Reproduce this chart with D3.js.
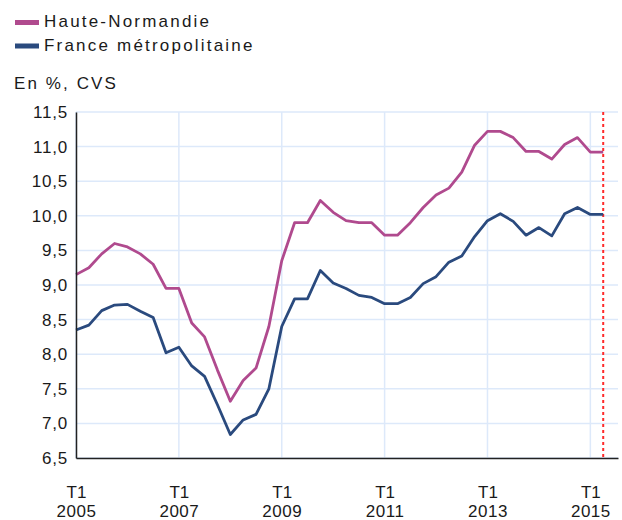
<!DOCTYPE html>
<html>
<head>
<meta charset="utf-8">
<script src="https://cdn.jsdelivr.net/npm/d3@7"></script>
<style>
  html, body { margin: 0; padding: 0; background: #fff; }
  svg { display: block; }
  text { font-family: "Liberation Sans", Arial, sans-serif; fill: #1a1a1a; }
</style>
</head>
<body>
<svg id="chart" width="622" height="520"></svg>
<script>
// ---- Data ----
const quarters = [
  "T1 2005","T2 2005","T3 2005","T4 2005",
  "T1 2006","T2 2006","T3 2006","T4 2006",
  "T1 2007","T2 2007","T3 2007","T4 2007",
  "T1 2008","T2 2008","T3 2008","T4 2008",
  "T1 2009","T2 2009","T3 2009","T4 2009",
  "T1 2010","T2 2010","T3 2010","T4 2010",
  "T1 2011","T2 2011","T3 2011","T4 2011",
  "T1 2012","T2 2012","T3 2012","T4 2012",
  "T1 2013","T2 2013","T3 2013","T4 2013",
  "T1 2014","T2 2014","T3 2014","T4 2014",
  "T1 2015","T2 2015"
];
const hauteNormandie = [
  9.15, 9.25, 9.45, 9.6,
  9.55, 9.45, 9.3, 8.95,
  8.95, 8.45, 8.25, 7.77,
  7.32, 7.62, 7.8, 8.4,
  9.35, 9.9, 9.9, 10.22,
  10.05, 9.93, 9.9, 9.9,
  9.72, 9.72, 9.9, 10.12,
  10.3, 10.4, 10.63, 11.02,
  11.22, 11.22, 11.13, 10.93,
  10.93, 10.82, 11.03, 11.13,
  10.92, 10.92
];
const franceMetro = [
  8.35, 8.42, 8.63, 8.71,
  8.72, 8.62, 8.53, 8.02,
  8.1, 7.83, 7.68, 7.27,
  6.84, 7.05, 7.13, 7.5,
  8.4, 8.8, 8.8, 9.21,
  9.03, 8.95, 8.85, 8.82,
  8.73, 8.73, 8.82, 9.02,
  9.12, 9.33, 9.42, 9.7,
  9.93, 10.03, 9.92, 9.72,
  9.83, 9.71, 10.03, 10.12,
  10.02, 10.02
];
const seriesNames = ["Haute-Normandie", "France métropolitaine"];
const seriesColors = ["#b04a8e", "#2a4a7e"];
const yTicks = [6.5, 7.0, 7.5, 8.0, 8.5, 9.0, 9.5, 10.0, 10.5, 11.0, 11.5];
const xTickIdx = [0, 8, 16, 24, 32, 40];
const unitLabel = "En %, CVS";
const markerIndex = 41; // dernier trimestre (ligne pointillée rouge)

// ---- Layout ----
const svg = d3.select("#chart");
const pLeft = 76, pRight = 618, pTop = 112, pBottom = 458;

const x = d3.scaleLinear().domain([0, 42.15]).range([pLeft, pRight]);
const y = d3.scaleLinear().domain([6.5, 11.5]).range([pBottom, pTop]);

// Grid
const grid = svg.append("g");
grid.selectAll(".hg").data(yTicks).join("line")
  .attr("x1", pLeft).attr("x2", pRight)
  .attr("y1", d => y(d)).attr("y2", d => y(d))
  .attr("stroke", "#dde9fa").attr("stroke-width", 1.5);
grid.selectAll(".vg").data(xTickIdx).join("line")
  .attr("x1", d => x(d)).attr("x2", d => x(d))
  .attr("y1", pTop).attr("y2", pBottom)
  .attr("stroke", "#dde9fa").attr("stroke-width", 1.5);

// Red dotted marker
svg.append("line")
  .attr("x1", x(markerIndex)).attr("x2", x(markerIndex))
  .attr("y1", pTop).attr("y2", pBottom)
  .attr("stroke", "#ff2a2a").attr("stroke-width", 2)
  .attr("stroke-dasharray", "3,3");

// Lines
const line = d3.line().x((d, i) => x(i)).y(d => y(d));
[hauteNormandie, franceMetro].forEach((vals, k) => {
  svg.append("path").datum(vals)
    .attr("d", line)
    .attr("fill", "none")
    .attr("stroke", seriesColors[k])
    .attr("stroke-width", 2.8)
    .attr("stroke-linejoin", "round");
});

// Y axis
const yAxis = d3.axisLeft(y).tickValues(yTicks).tickSize(0).tickPadding(8)
  .tickFormat(d => d3.format(".1f")(d).replace(".", ","));
const gy = svg.append("g").attr("transform", `translate(${pLeft},0)`).call(yAxis);
gy.select(".domain").attr("stroke", "#222").attr("stroke-width", 1.5);
gy.selectAll("text").attr("font-size", 17).attr("fill", "#1a1a1a")
  .style("font-family", '"Liberation Sans", Arial, sans-serif').attr("letter-spacing", 0.8);

// X axis
const xAxis = d3.axisBottom(x).tickValues(xTickIdx).tickSize(0).tickFormat("");
const gx = svg.append("g").attr("transform", `translate(0,${pBottom})`).call(xAxis);
gx.select(".domain").attr("stroke", "#222").attr("stroke-width", 1.5);
gx.selectAll(".tick").each(function(d) {
  const parts = quarters[d].split(" ");
  const t = d3.select(this).append("text")
    .attr("text-anchor", "middle")
    .attr("font-size", 17)
    .attr("fill", "#1a1a1a")
    .style("font-family", '"Liberation Sans", Arial, sans-serif');
  t.append("tspan").attr("x", 0).attr("y", 40).text(parts[0]);
  t.append("tspan").attr("x", 0).attr("y", 59).attr("letter-spacing", 0.5).text(parts[1]);
});

// Unit label
svg.append("text").attr("x", 14).attr("y", 89)
  .attr("font-size", 17).attr("letter-spacing", 2.1).text(unitLabel);

// Legend
const legend = svg.append("g");
seriesNames.forEach((name, k) => {
  const cy = 22.5 + k * 23.5;
  legend.append("rect")
    .attr("x", 15).attr("y", cy - 2.5).attr("width", 24).attr("height", 5)
    .attr("fill", seriesColors[k]);
  legend.append("text")
    .attr("x", 44).attr("y", cy + 4.8)
    .attr("font-size", 17).attr("letter-spacing", 2.2)
    .text(name);
});
</script>
</body>
</html>
